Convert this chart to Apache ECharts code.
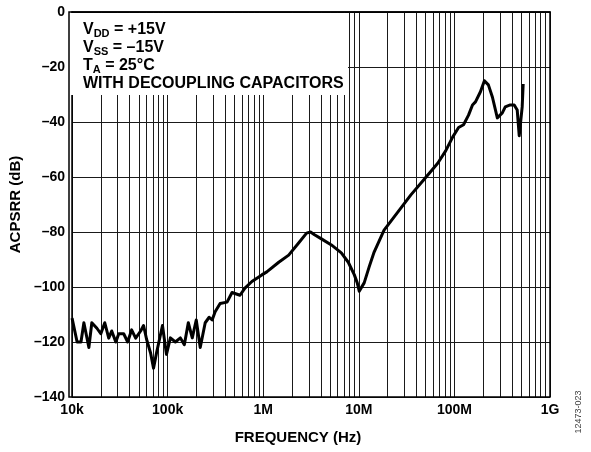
<!DOCTYPE html>
<html><head><meta charset="utf-8">
<script src="https://cdn.jsdelivr.net/npm/echarts@6/dist/echarts.min.js"></script>
<style>html,body{margin:0;padding:0;background:#fff}#c{width:591px;height:452px}</style>
</head><body><div id="c"></div>
<script>
// ---- data ----
const freqHz = [10000,11300,12400,13300,15000,16100,18200,20000,22000,24200,26000,28700,30800,34700,38200,42000,46300,52200,56000,60200,66300,71200,76500,82200,88300,97200,106900,120500,135900,149500,164500,181000,199200,219300,247200,272000,292200,314000,354000,418400,471800,571300,643800,761200,967000,1090000,1453000,1846000,2345000,2840000,3125000,3439000,4064000,5166000,6561000,7759000,8958000,9630000,10100000,11380000,12830000,14460000,18370000,25680000,35050000,47840000,66900000,81000000,95800000,110600000,124600000,140500000,154600000,166100000,187200000,206000000,226700000,249600000,281200000,317000000,340500000,383800000,422400000,453900000,476300000,511700000,524100000];
const acpsrrDb = [-111.3,-120,-120,-113,-122,-113,-115,-117,-113,-118.6,-116,-120,-117,-117,-120,-115.6,-118.6,-116,-114,-119,-124,-129.5,-124,-119,-114,-124.5,-118.5,-120,-118.5,-121,-113,-118.5,-112,-122,-113,-111,-112,-109,-106,-105.5,-102,-103,-100.4,-98,-95.6,-94.5,-91,-88.4,-84,-80.4,-80,-81,-82.5,-84.7,-87.6,-91,-95.5,-98.5,-101.5,-98.5,-92.7,-87.3,-79.3,-72.7,-66.5,-61,-55,-50.5,-45.5,-42,-41,-37.5,-33.8,-32.7,-29,-25,-26.5,-30.9,-38.5,-36.7,-34.5,-33.8,-33.8,-35.6,-45,-34.5,-26.2];
const xTickLabels = ['10k','100k','1M','10M','100M','1G'];
const decades = [1e4,1e5,1e6,1e7,1e8];
const minorMultipliers = [2,3,4,5,6,7,8,9];
const yMin = -140, yMax = 0, yStep = 20;
const noteLines = [
  '{a|V}{b|DD}{a| = +15V}',
  '{a|V}{b|SS}{a| = –15V}',
  '{a|T}{b|A}{a| = 25°C}',
  '{a|WITH DECOUPLING CAPACITORS}'
];

// ---- layout ----
const FONT = '"Liberation Sans", Arial, sans-serif';
const G = {left: 69, top: 12, right: 41, bottom: 55};
const W = 591, H = 452;

const minorLines = [];
decades.forEach(d => minorMultipliers.forEach(m => minorLines.push({xAxis: d * m})));

const chart = echarts.init(document.getElementById('c'), null, {renderer: 'canvas'});
chart.setOption({
  animation: false,
  backgroundColor: '#fff',
  grid: {left: G.left, top: G.top, right: G.right, bottom: G.bottom, containLabel: false},
  title: {
    text: noteLines.join('\n'),
    left: 83, top: 21, padding: 0, z: 100,
    textStyle: {
      rich: {
        a: {fontFamily: FONT, fontWeight: 'bold', fontSize: 16, lineHeight: 18, color: '#000'},
        b: {fontFamily: FONT, fontWeight: 'bold', fontSize: 11, lineHeight: 8, verticalAlign: 'bottom', color: '#000'}
      }
    }
  },
  xAxis: {
    type: 'log', logBase: 10, min: 1e4, max: 1e9,
    name: 'FREQUENCY (Hz)', nameLocation: 'middle', nameGap: 33,
    nameTextStyle: {fontFamily: FONT, fontWeight: 'bold', fontSize: 15, color: '#000', padding: [0, 26, 0, 0]},
    axisLine: {show: true, lineStyle: {color: '#000', width: 1.5}},
    axisTick: {show: false},
    axisLabel: {
      fontFamily: FONT, fontWeight: 'bold', fontSize: 14, color: '#000', margin: 6,
      formatter: v => xTickLabels[Math.round(Math.log10(v)) - 4] || ''
    },
    splitLine: {show: true, lineStyle: {color: '#1a1a1a', width: 1}},
    minorSplitLine: {show: false}
  },
  yAxis: {
    type: 'value', min: yMin, max: yMax, interval: yStep,
    name: 'ACPSRR (dB)', nameLocation: 'middle', nameGap: 40, nameRotate: 90,
    nameTextStyle: {fontFamily: FONT, fontWeight: 'bold', fontSize: 15, color: '#000'},
    axisLine: {show: true, lineStyle: {color: '#000', width: 1.5}},
    axisTick: {show: false},
    axisLabel: {
      fontFamily: FONT, fontWeight: 'bold', fontSize: 14, color: '#000', margin: 7,
      formatter: v => v === 0 ? '0' : '–' + Math.abs(v)
    },
    splitLine: {show: true, lineStyle: {color: '#1a1a1a', width: 1}}
  },
  series: [
    {
      type: 'line', data: [], silent: true,
      markLine: {
        silent: true, symbol: 'none', label: {show: false},
        lineStyle: {color: '#1a1a1a', width: 1, type: 'solid'},
        data: minorLines, z: 1
      }
    },
    {
      type: 'line', showSymbol: false, smooth: false, z: 10,
      lineStyle: {color: '#000', width: 3, join: 'round'},
      data: freqHz.map((f, i) => [f, acpsrrDb[i]])
    }
  ],
  graphic: [
    {type: 'rect', z: 50, silent: true, shape: {x: G.left + 1, y: G.top + 1, width: 348 - G.left - 1, height: 95 - G.top - 1}, style: {fill: '#fff'}},
    {type: 'rect', z: 60, silent: true, shape: {x: G.left, y: G.top, width: W - G.left - G.right, height: H - G.top - G.bottom}, style: {fill: null, stroke: '#000', lineWidth: 1.5}},
    {type: 'text', z: 60, x: 579, y: 412, rotation: Math.PI / 2, style: {text: '12473-023', fontFamily: FONT, fontSize: 9, fill: '#444', align: 'center', verticalAlign: 'middle'}}
  ]
});
</script>
</body></html>
